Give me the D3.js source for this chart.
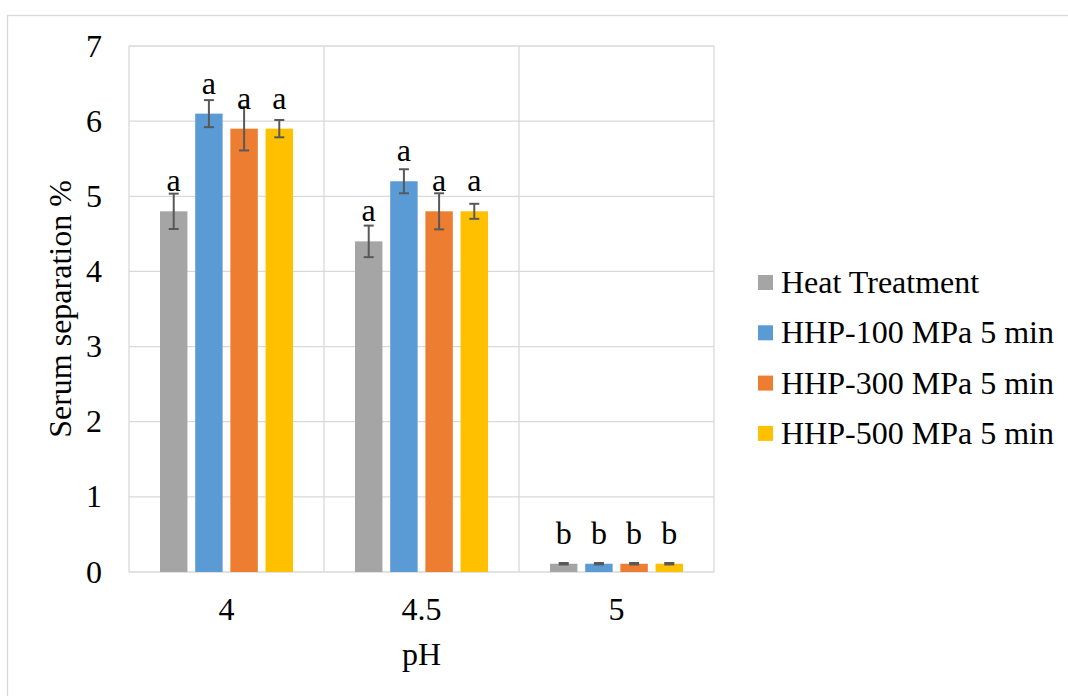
<!DOCTYPE html>
<html>
<head>
<meta charset="utf-8">
<script src="https://cdn.jsdelivr.net/npm/d3@7"></script>
<style>
  html, body { margin: 0; padding: 0; background: #fff; }
  svg text { font-family: "Liberation Serif", "Times New Roman", serif; fill: #000; }
</style>
</head>
<body>
<svg id="chart" width="1068" height="696"></svg>
<script>
// pH levels on the category axis
const categories = ["4", "4.5", "5"];
// treatment series
const seriesNames = ["Heat Treatment", "HHP-100 MPa 5 min", "HHP-300 MPa 5 min", "HHP-500 MPa 5 min"];
const seriesColors = ["#A5A5A5", "#5B9BD5", "#ED7D31", "#FFC000"];
// mean serum separation (%) per series, ordered as categories
const heatValues = [4.8, 4.4, 0.11];
const hhp100Values = [6.1, 5.2, 0.11];
const hhp300Values = [5.9, 4.8, 0.11];
const hhp500Values = [5.9, 4.8, 0.11];
// standard deviations
const heatErrors = [0.235, 0.21, 0.01];
const hhp100Errors = [0.18, 0.16, 0.01];
const hhp300Errors = [0.29, 0.24, 0.01];
const hhp500Errors = [0.115, 0.10, 0.01];
// significance letters
const heatLetters = ["a", "a", "b"];
const hhp100Letters = ["a", "a", "b"];
const hhp300Letters = ["a", "a", "b"];
const hhp500Letters = ["a", "a", "b"];
const yTicks = [0, 1, 2, 3, 4, 5, 6, 7];

const seriesValues = [heatValues, hhp100Values, hhp300Values, hhp500Values];
const seriesErrors = [heatErrors, hhp100Errors, hhp300Errors, hhp500Errors];
const seriesLetters = [heatLetters, hhp100Letters, hhp300Letters, hhp500Letters];

const svg = d3.select("#chart");
const gridColor = "#d9d9d9";
const fontSize = 32;

// chart frame
svg.append("rect")
  .attr("x", 7.5).attr("y", 15.5)
  .attr("width", 1200).attr("height", 800)
  .attr("fill", "none").attr("stroke", gridColor).attr("stroke-width", 1.3);

const plot = { left: 129, right: 714, top: 46, bottom: 572 };

const x = d3.scaleBand().domain(categories).range([plot.left, plot.right]).padding(0);
const xInner = d3.scaleBand().domain(seriesNames)
  .range([31, x.bandwidth() - 31]).paddingInner(0.22).paddingOuter(0);
const y = d3.scaleLinear().domain([0, 7]).range([plot.bottom, plot.top]);

// horizontal gridlines
svg.append("g").selectAll("line").data(yTicks).join("line")
  .attr("x1", plot.left).attr("x2", plot.right)
  .attr("y1", d => y(d)).attr("y2", d => y(d))
  .attr("stroke", gridColor).attr("stroke-width", 1.3);

// vertical category dividers
const dividers = categories.map(c => x(c)).concat([plot.right]);
svg.append("g").selectAll("line").data(dividers).join("line")
  .attr("x1", d => d).attr("x2", d => d)
  .attr("y1", plot.top).attr("y2", plot.bottom)
  .attr("stroke", gridColor).attr("stroke-width", 1.3);

// y tick labels
svg.append("g").selectAll("text").data(yTicks).join("text")
  .attr("x", 102).attr("y", d => y(d) + 10.5)
  .attr("text-anchor", "end").attr("font-size", fontSize)
  .text(d => d);

// x tick labels
svg.append("g").selectAll("text").data(categories).join("text")
  .attr("x", d => x(d) + x.bandwidth() / 2).attr("y", 620)
  .attr("text-anchor", "middle").attr("font-size", fontSize)
  .text(d => d);

// bars, error bars and letters
const rows = [];
seriesNames.forEach((s, si) => {
  categories.forEach((c, ci) => {
    rows.push({ s, c, color: seriesColors[si], v: seriesValues[si][ci],
      e: seriesErrors[si][ci], label: seriesLetters[si][ci] });
  });
});

const bx = d => x(d.c) + xInner(d.s);
const bw = xInner.bandwidth();

svg.append("g").selectAll("rect").data(rows).join("rect")
  .attr("x", bx).attr("width", bw)
  .attr("y", d => y(d.v)).attr("height", d => y(0) - y(d.v))
  .attr("fill", d => d.color);

const err = svg.append("g").attr("stroke", "#595959").attr("stroke-width", 2);
err.selectAll(".stem").data(rows).join("line")
  .attr("x1", d => bx(d) + bw / 2).attr("x2", d => bx(d) + bw / 2)
  .attr("y1", d => y(d.v + d.e)).attr("y2", d => y(d.v - d.e));
err.selectAll(".capTop").data(rows).join("line")
  .attr("x1", d => bx(d) + bw / 2 - 5).attr("x2", d => bx(d) + bw / 2 + 5)
  .attr("y1", d => y(d.v + d.e)).attr("y2", d => y(d.v + d.e));
err.selectAll(".capBottom").data(rows).join("line")
  .attr("x1", d => bx(d) + bw / 2 - 5).attr("x2", d => bx(d) + bw / 2 + 5)
  .attr("y1", d => y(d.v - d.e)).attr("y2", d => y(d.v - d.e));

svg.append("g").selectAll("text").data(rows).join("text")
  .attr("x", d => bx(d) + bw / 2).attr("y", d => y(d.v) - 20)
  .attr("text-anchor", "middle").attr("font-size", fontSize)
  .text(d => d.label);

// axis titles
svg.append("text")
  .attr("transform", `translate(71,${(plot.top + plot.bottom) / 2}) rotate(-90)`)
  .attr("text-anchor", "middle").attr("font-size", fontSize)
  .text("Serum separation %");
svg.append("text")
  .attr("x", (plot.left + plot.right) / 2).attr("y", 665)
  .attr("text-anchor", "middle").attr("font-size", fontSize)
  .text("pH");

// legend
const legend = svg.append("g").selectAll("g").data(seriesNames).join("g")
  .attr("transform", (d, i) => `translate(758,${293 + i * 50.3})`);
legend.append("rect")
  .attr("x", 0).attr("y", -18).attr("width", 15).attr("height", 15)
  .attr("fill", (d, i) => seriesColors[i]);
legend.append("text")
  .attr("x", 23).attr("y", 0).attr("font-size", fontSize)
  .text(d => d);
</script>
</body>
</html>
